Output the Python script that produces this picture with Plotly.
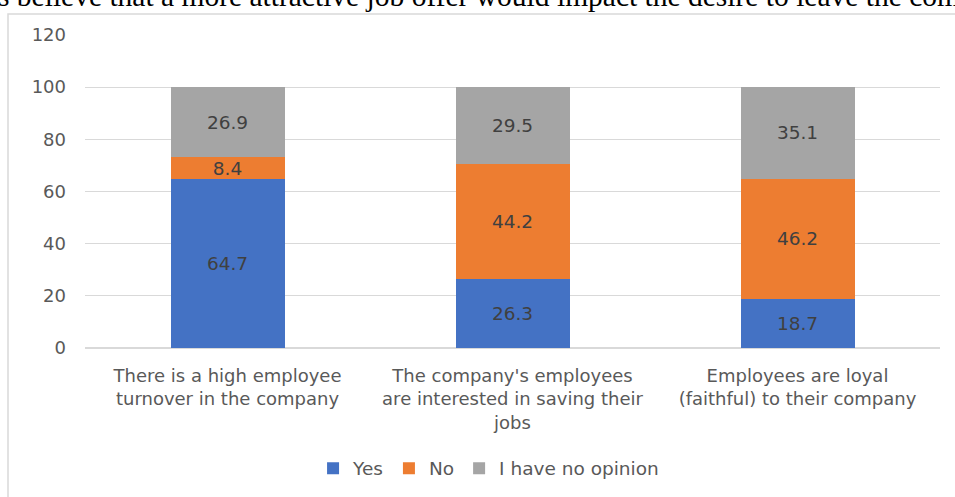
import plotly.graph_objects as go

categories = [
    "There is a high employee<br>turnover in the company",
    "The company's employees<br>are interested in saving their<br>jobs",
    "Employees are loyal<br>(faithful) to their company",
]
yes_vals = [64.7, 26.3, 18.7]
no_vals = [8.4, 44.2, 46.2]
noop_vals = [26.9, 29.5, 35.1]
series_names = ["Yes", "No", "I have no opinion"]
colors = ["#4472C4", "#ED7D31", "#A5A5A5"]
y_ticks = [0, 20, 40, 60, 80, 100, 120]
title_text = "s believe that a more attractive job offer would impact the desire to leave the com"

FONT = "DejaVu Sans"

fig = go.Figure()
for name, vals, col in zip(series_names, [yes_vals, no_vals, noop_vals], colors):
    fig.add_trace(go.Bar(
        x=categories, y=vals, name=name, marker=dict(color=col, line=dict(width=0)),
        text=[f"{v}" for v in vals], textposition="inside", insidetextanchor="middle",
        constraintext="none", textangle=0,
        textfont=dict(color="#404040", size=18.5, family=FONT),
        width=0.4,
    ))

fig.update_layout(
    barmode="stack",
    width=955, height=497,
    margin=dict(l=85, r=15, t=35, b=149, autoexpand=False),
    paper_bgcolor="white", plot_bgcolor="white",
    font=dict(family=FONT, color="#595959"),
    showlegend=True,
    legend=dict(orientation="h", x=0.472, xanchor="center", y=-0.325, yanchor="top",
                font=dict(size=18.5, color="#595959", family=FONT), traceorder="normal",
                itemwidth=30),
    yaxis=dict(range=[0, 120], tickvals=y_ticks, showgrid=True, gridcolor="#D9D9D9",
               gridwidth=1, zeroline=True, zerolinecolor="#D9D9D9", showline=False,
               tickfont=dict(size=18, color="#595959", family=FONT), ticklabelstandoff=18,
               automargin=False),
    xaxis=dict(showline=False, tickfont=dict(size=18, color="#595959", family=FONT),
               ticks="", ticklabelstandoff=15, automargin=False),
)

fig.add_shape(type="rect", xref="paper", yref="paper",
              x0=(8 - 85) / 855, x1=1.2, y0=-1, y1=(348 - 14) / 313,
              line=dict(color="#D9D9D9", width=1.5), fillcolor="rgba(0,0,0,0)", layer="below")

fig.add_annotation(text=title_text, xref="paper", yref="paper",
                   x=(-4 - 85) / 855, xanchor="left", y=(348 - 14) / 313, yanchor="bottom",
                   showarrow=False, font=dict(family="Liberation Serif", size=29.5, color="black"))

fig.write_html("out.html")
